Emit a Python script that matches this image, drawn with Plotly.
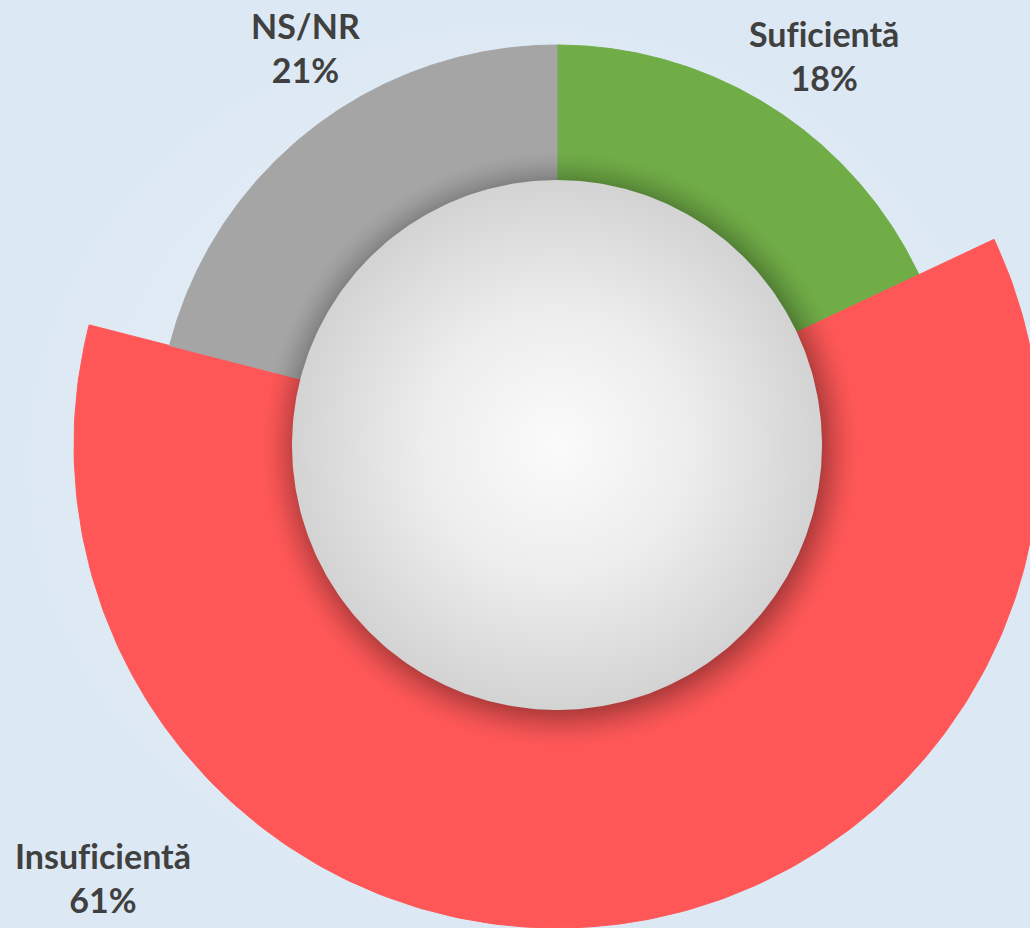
import numpy as np
import plotly.graph_objects as go

# --- data -------------------------------------------------------------
labels = ["Suficientă", "Insuficientă", "NS/NR"]
values = [18, 61, 21]

# --- style ------------------------------------------------------------
colors = ["#70AD47", "#FF5757", "#A5A5A5"]
outer_radius = [400, 483, 400]          # the "Insuficientă" slice is drawn larger
label_pos = [(824, 55), (103, 877), (305, 47)]
text_color = "#404040"

W, H = 1030, 928
CX, CY = 557, 445          # centre of the ring, pixel units (y grows downwards)
HOLE_R = 265


def arc(r, a0, a1, cx=CX, cy=CY, n=240):
    """Points on an arc; angles in degrees, clockwise from 12 o'clock."""
    t = np.radians(np.linspace(a0, a1, n))
    return cx + r * np.sin(t), cy - r * np.cos(t)


def disc(r, cx=CX, cy=CY, n=360):
    return arc(r, 0, 360, cx, cy, n)


fig = go.Figure()

# soft blue backdrop
fig.add_trace(go.Scatter(
    x=[0, W, W, 0, 0], y=[0, 0, H, H, 0],
    mode="lines", fill="toself", line=dict(width=0),
    fillgradient=dict(type="radial",
                      colorscale=[[0, "#eaf2f9"], [1, "#dce8f3"]]),
    hoverinfo="skip", showlegend=False,
))

# slices: angles come from the cumulative share of each value
total = float(sum(values))
edges = np.concatenate([[0.0], np.cumsum(values) / total * 360.0])
for lab, val, col, r, a0, a1 in zip(labels, values, colors, outer_radius,
                                    edges[:-1], edges[1:]):
    ax, ay = arc(r, a0, a1)
    xs = np.concatenate([[CX], ax, [CX]])
    ys = np.concatenate([[CY], ay, [CY]])
    fig.add_trace(go.Scatter(
        x=xs, y=ys, mode="lines", fill="toself",
        fillcolor=col, line=dict(color=col, width=1),
        name=lab, hoverinfo="skip", showlegend=False,
    ))

# blurred drop shadow of the centre disc
SH_R = 298
sx, sy = disc(SH_R, CX + 3, CY + 4)
edge = HOLE_R / SH_R
fig.add_trace(go.Scatter(
    x=sx, y=sy, mode="lines", fill="toself", line=dict(width=0),
    fillgradient=dict(type="radial", colorscale=[
        [0, "rgba(0,0,0,0.30)"],
        [edge - 0.01, "rgba(0,0,0,0.30)"],
        [edge + 0.035, "rgba(0,0,0,0.15)"],
        [edge + 0.075, "rgba(0,0,0,0.05)"],
        [1, "rgba(0,0,0,0)"],
    ]),
    hoverinfo="skip", showlegend=False,
))

# centre disc with a light radial sheen
hx, hy = disc(HOLE_R)
fig.add_trace(go.Scatter(
    x=hx, y=hy, mode="lines", fill="toself", line=dict(width=0),
    fillgradient=dict(type="radial", colorscale=[
        [0, "#fbfbfb"], [0.5, "#ededed"], [1, "#d3d3d3"]]),
    hoverinfo="skip", showlegend=False,
))

# category labels with their share (a zero-width non-joiner keeps "f" and "i"
# as separate glyphs instead of the font's ligature)
for lab, val, (lx, ly) in zip(labels, values, label_pos):
    pct = round(val / total * 100)
    shown = lab.replace("fi", "f\u200ci")
    fig.add_annotation(
        x=lx, y=ly, xref="x", yref="y",
        text=f"{shown}<br>{pct}%", showarrow=False,
        xanchor="center", yanchor="middle", align="center",
        font=dict(family="Lato", size=34, color=text_color, weight="bold"),
    )

fig.update_xaxes(range=[0, W], visible=False, fixedrange=True)
fig.update_yaxes(range=[H, 0], visible=False, fixedrange=True)
fig.update_layout(
    width=W, height=H,
    margin=dict(l=0, r=0, t=0, b=0),
    paper_bgcolor="#e3edf6", plot_bgcolor="rgba(0,0,0,0)",
    showlegend=False, hovermode=False,
)

fig.write_html("out.html")
